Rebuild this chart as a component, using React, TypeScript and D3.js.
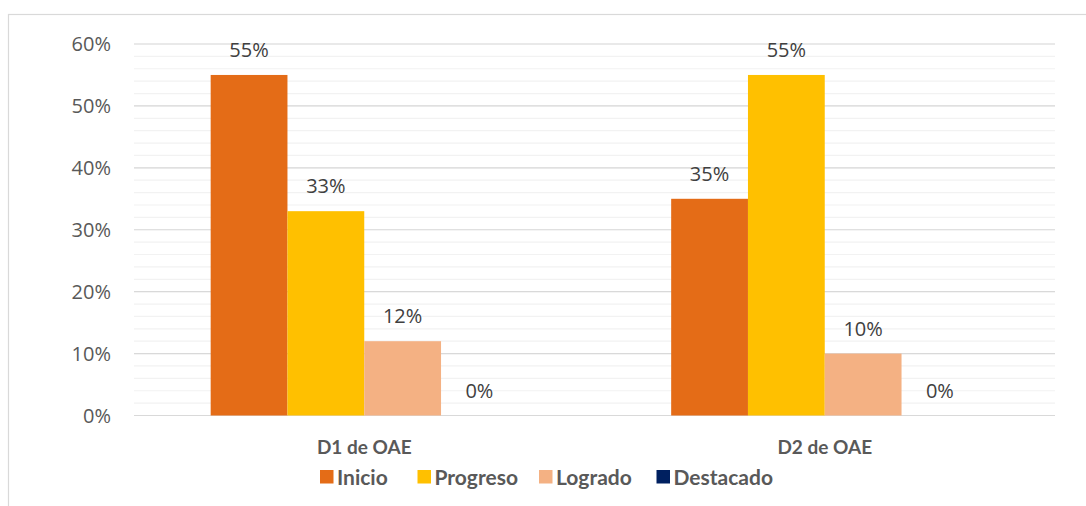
import React from "react";
import * as d3 from "d3";

const categories = ["D1 de OAE", "D2 de OAE"];
const seriesNames = ["Inicio", "Progreso", "Logrado", "Destacado"];
const inicio = [0.55, 0.35];
const progreso = [0.33, 0.55];
const logrado = [0.12, 0.10];
const destacado = [0, 0];
const yTicks = [0, 0.1, 0.2, 0.3, 0.4, 0.5, 0.6];
const colors = ["#E46C17", "#FFC000", "#F4B183", "#002060"];

const W = 1086;
const H = 506;
const left = 134;
const right = 1055;
const top = 44;
const bottom = 415.5;

export default function App() {
  const seriesValues = [inicio, progreso, logrado, destacado];
  const x0 = d3.scaleBand<string>().domain(categories).range([left, right]).paddingInner(0.333).paddingOuter(0.1665);
  const x1 = d3.scaleBand<string>().domain(seriesNames).range([0, x0.bandwidth()]);
  const y = d3.scaleLinear().domain([0, 0.6]).range([bottom, top]);
  const minor = d3.range(0, 0.6001, 0.02);
  const fmt = d3.format(".0%");
  const tickFont = "'Open Sans', sans-serif";
  const boldFont = "Lato, sans-serif";
  const legendX = [320, 417.5, 539, 656.5];

  return (
    <svg width={W} height={H} style={{ position: "absolute", left: 0, top: 0, background: "#fff" }}>
      <rect x={8.5} y={14.5} width={W} height={H} fill="#fff" stroke="#D9D9D9" strokeWidth={1.2} />
      {minor.map((v, i) => (
        <line key={"m" + i} x1={left} x2={right} y1={y(v)} y2={y(v)} stroke="#F2F2F2" strokeWidth={1.2} />
      ))}
      {yTicks.map((v, i) => (
        <g key={"t" + i}>
          <line x1={left} x2={right} y1={y(v)} y2={y(v)} stroke="#D9D9D9" strokeWidth={1.2} />
          <text x={111} y={y(v)} dy="0.36em" textAnchor="end" fontFamily={tickFont} fontSize={20} fill="#595959">
            {fmt(v)}
          </text>
        </g>
      ))}
      {categories.map((c, ci) => (
        <g key={c} transform={`translate(${x0(c)},0)`}>
          {seriesNames.map((s, si) => {
            const v = seriesValues[si][ci];
            const bx = x1(s)!;
            return (
              <g key={s}>
                {v > 0 && (
                  <rect x={bx} y={y(v)} width={x1.bandwidth()} height={bottom - y(v)} fill={colors[si]} />
                )}
                <text x={bx + x1.bandwidth() / 2} y={y(v) - 18} textAnchor="middle" fontFamily={tickFont} fontSize={20} fill="#404040">
                  {fmt(v)}
                </text>
              </g>
            );
          })}
          <text x={x0.bandwidth() / 2} y={454} textAnchor="middle" fontFamily={boldFont} fontWeight="bold" fontSize={19} fill="#595959">
            {c}
          </text>
        </g>
      ))}
      {seriesNames.map((s, i) => (
        <g key={"l" + s} transform={`translate(${legendX[i]},0)`}>
          <rect x={0} y={470} width={13.5} height={13.5} fill={colors[i]} />
          <text x={17} y={485} fontFamily={boldFont} fontWeight="bold" fontSize={21} fill="#595959">
            {s}
          </text>
        </g>
      ))}
    </svg>
  );
}
